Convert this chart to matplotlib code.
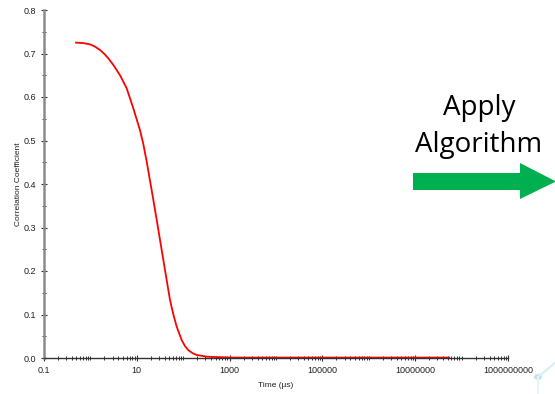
import numpy as np
import matplotlib
matplotlib.use("Agg")
import matplotlib.pyplot as plt
from matplotlib.patches import Polygon, Circle
from matplotlib.ticker import FixedLocator, FixedFormatter, NullFormatter

# Correlation function: lag time (µs) and correlation coefficient
time_us = [0.49, 0.7, 0.98, 1.25, 1.61, 2.0, 2.43, 3.2, 4.35, 6.05, 8.41,
           11.7, 13.8, 16.3, 20.9, 26.9, 34.4, 40.6, 52.0, 62.0, 72.4, 92.9,
           110.0, 129.0, 160.0, 195.0, 324.0, 1000.0, 1.0e4, 1.0e5, 1.0e6,
           1.0e7, 5.4e7]
corr = [0.725, 0.724, 0.721, 0.716, 0.708, 0.699, 0.689, 0.672, 0.650, 0.620,
        0.574, 0.524, 0.492, 0.452, 0.386, 0.317, 0.248, 0.202, 0.133, 0.098,
        0.072, 0.041, 0.027, 0.018, 0.011, 0.007, 0.003, 0.001, 0.001, 0.001,
        0.001, 0.001, 0.001]

x_major = [0.1, 10, 1000, 1e5, 1e7, 1e9]
x_major_labels = ["0.1", "10", "1000", "100000", "10000000", "1000000000"]
y_major = [0.0, 0.1, 0.2, 0.3, 0.4, 0.5, 0.6, 0.7, 0.8]

W, H = 555, 394
fig = plt.figure(figsize=(W / 100, H / 100), dpi=100)
fig.patch.set_facecolor("white")

ax = fig.add_axes([44 / W, (H - 358) / H, (508 - 44) / W, (358 - 10) / H])
ax.plot(time_us, corr, color="#ff0000", lw=1.3, solid_joinstyle="round")

ax.set_xscale("log")
ax.set_xlim(0.1, 1e9)
ax.set_ylim(0.0, 0.8)

for s in ("top", "right"):
    ax.spines[s].set_visible(False)
ax.spines["left"].set_color("#8c8c8c")
ax.spines["left"].set_linewidth(1.8)
ax.spines["bottom"].set_color("#333333")
ax.spines["bottom"].set_linewidth(1.0)

ax.xaxis.set_major_locator(FixedLocator(x_major))
ax.xaxis.set_major_formatter(FixedFormatter(x_major_labels))
minor = []
for e in range(-1, 9):
    for m in range(1, 10):
        v = m * 10.0 ** e
        if v not in x_major and 0.1 <= v <= 1e9:
            minor.append(v)
ax.xaxis.set_minor_locator(FixedLocator(minor))
ax.xaxis.set_minor_formatter(NullFormatter())

ax.yaxis.set_major_locator(FixedLocator(y_major))
ax.set_yticklabels([f"{v:.1f}" for v in y_major])
ax.yaxis.set_minor_locator(FixedLocator(np.arange(0.05, 0.8, 0.1)))

ax.tick_params(axis="both", which="major", direction="inout", length=5,
               width=0.8, color="#333333", labelsize=6.5, labelcolor="#222222",
               pad=3)
ax.tick_params(axis="both", which="minor", direction="inout", length=3,
               width=0.7, color="#333333")

for lab in ax.get_xticklabels() + ax.get_yticklabels():
    lab.set_family("Liberation Sans")

ax.set_xlabel("Time (µs)", fontsize=6, family="Liberation Sans",
              color="#222222", labelpad=5)
ax.set_ylabel("Correlation Coefficient", fontsize=6, family="Liberation Sans",
              color="#222222", labelpad=1)

# Annotation text and arrow on the right
fig.text(479 / W, 1 - 108 / H, "Apply", fontsize=20, family="Open Sans",
         ha="center", va="center", color="black")
fig.text(479 / W, 1 - 145 / H, "Algorithm", fontsize=20, family="Open Sans",
         ha="center", va="center", color="black")

arrow_px = [(413, 173), (520, 173), (520, 163), (556, 181.5), (520, 199),
            (520, 190), (413, 190)]
arrow = Polygon([(x / W, 1 - y / H) for x, y in arrow_px], closed=True,
                transform=fig.transFigure, facecolor="#00b050",
                edgecolor="none")
fig.patches.append(arrow)

# faint decorative node in the corner
fig.add_artist(plt.Line2D([538 / W, 556 / W], [1 - 377 / H, 1 - 362 / H],
                          transform=fig.transFigure, color="#d6eef5", lw=1.5))
fig.add_artist(plt.Line2D([538 / W, 538 / W], [1 - 377 / H, 0],
                          transform=fig.transFigure, color="#e6f4f8", lw=1.5))
fig.add_artist(Circle((538 / W, 1 - 377 / H), 4 / W, transform=fig.transFigure,
                      facecolor="#bfe3ee", edgecolor="none"))

fig.savefig("out.png", dpi=100)
